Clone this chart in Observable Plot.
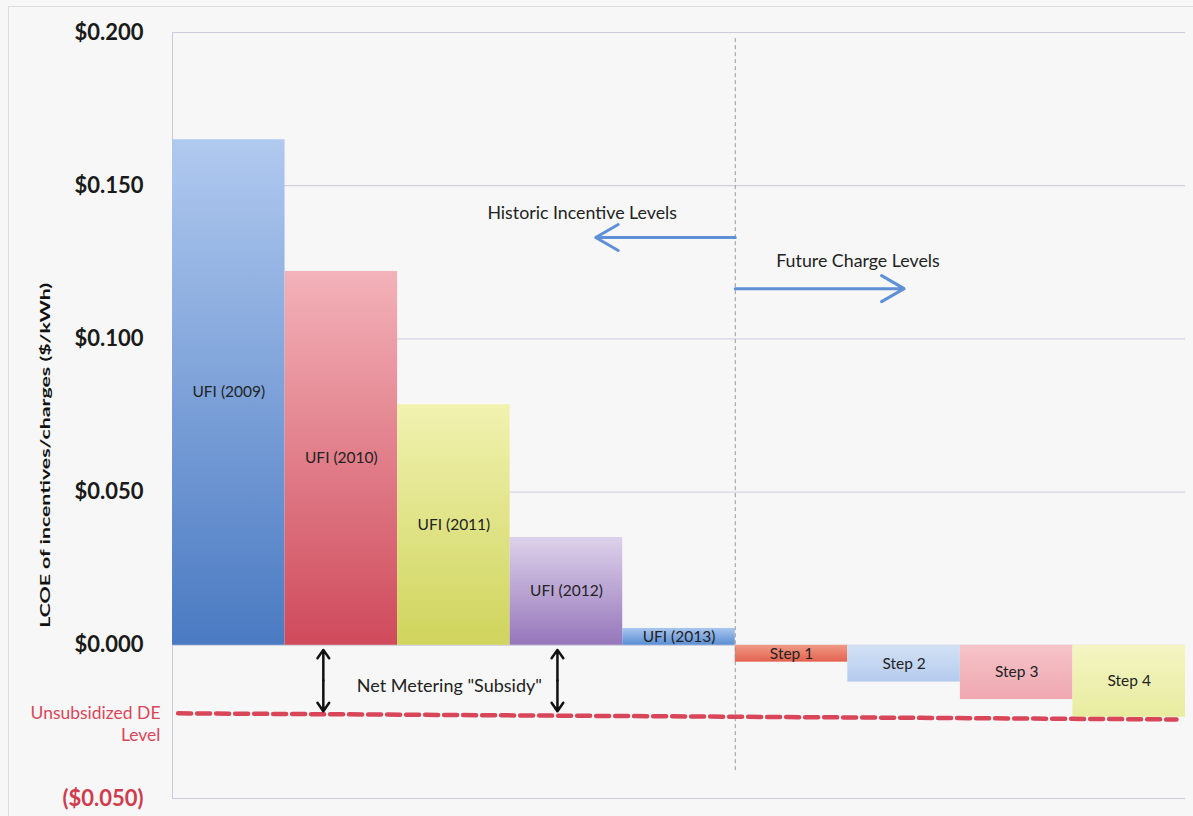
<!DOCTYPE html>
<html>
<head>
<meta charset="utf-8">
<script src="https://cdn.jsdelivr.net/npm/d3@7"></script>
<script src="https://cdn.jsdelivr.net/npm/@observablehq/plot@0.6"></script>
<style>
  html, body { margin: 0; padding: 0; background: #f7f7f7; }
  #wrap { position: relative; width: 1193px; height: 816px; overflow: hidden; }
  #frame { position: absolute; left: 8px; top: 6px; width: 1200px; height: 900px; border: 1px solid #dedede; pointer-events: none; }
  svg { font-family: Lato, "Open Sans", sans-serif; }
</style>
</head>
<body>
<div id="wrap"><div id="frame"></div><div id="chart"></div></div>
<script>
// ---- data ----
const categories = ["UFI (2009)", "UFI (2010)", "UFI (2011)", "UFI (2012)", "UFI (2013)", "Step 1", "Step 2", "Step 3", "Step 4"];
const values = [0.165, 0.122, 0.0785, 0.0352, 0.0055, -0.0055, -0.012, -0.0177, -0.0235];
const tickValues = [0.2, 0.15, 0.1, 0.05, 0, -0.05];
const unsubsidizedLevel = [-0.0222, -0.0242];   // left end, right end
const dividerAt = 5;                             // between historic and future
const subsidyArrowsAt = [1.34, 3.42];
const yLabel = "LCOE of incentives/charges ($/kWh)";
const historicLabel = "Historic Incentive Levels";
const futureLabel = "Future Charge Levels";
const subsidyLabel = "Net Metering \"Subsidy\"";
const levelLabel = ["Unsubsidized DE", "Level"];

// ---- styles ----
const gradients = [
  ["#b0c9ef", "#4a7ac2"],
  ["#f3b2b9", "#cf4a5b"],
  ["#f1f2b0", "#cfd45c"],
  ["#ddd2ea", "#9676bb"],
  ["#a9c6ee", "#5a8ed3"],
  ["#f09a86", "#e2624f"],
  ["#d3e1f5", "#b4cbee"],
  ["#f6c4c9", "#efa7b0"],
  ["#f4f5c2", "#e8eca0"]
];

const bars = categories.map((c, i) => ({i, label: c, value: values[i], fill: `url(#g${i})`}));
const fmt = d => d < 0 ? `($${(-d).toFixed(3)})` : `$${d.toFixed(3)}`;
const subsidyHalves = subsidyArrowsAt.flatMap(x => [
  {x, y1: -0.0115, y2: -0.0015},
  {x, y1: -0.0115, y2: -0.0215}
]);

const plot = Plot.plot({
  width: 1193,
  height: 816,
  marginLeft: 172,
  marginRight: 8,
  marginTop: 32,
  marginBottom: 18,
  style: {background: "transparent", fontFamily: "Lato, 'Open Sans', sans-serif", overflow: "visible"},
  x: {domain: [0, categories.length], axis: null},
  y: {domain: [-0.05, 0.2], axis: null},
  color: {type: "identity"},
  marks: [
    Plot.ruleY(tickValues, {x1: 0, x2: categories.length, stroke: "#cbcbdb", strokeWidth: 1}),
    Plot.ruleX([0], {y1: -0.05, y2: 0.2, stroke: "#cbcbdb"}),
    Plot.rect(bars, {x1: "i", x2: d => d.i + 1, y1: 0, y2: "value", fill: "fill"}),
    Plot.ruleX([dividerAt], {y1: 0.198, y2: -0.0415, stroke: "#999", strokeWidth: 1, strokeDasharray: "4,3"}),
    Plot.line([{x: 0.05, y: unsubsidizedLevel[0]}, {x: 8.92, y: unsubsidizedLevel[1]}],
      {x: "x", y: "y", stroke: "#d9465a", strokeWidth: 4.5, strokeDasharray: "13,6"}),
    Plot.text(bars, {x: d => d.i + 0.5, y: d => d.value / 2, text: "label", fontSize: 15.5, fill: "#222"}),
    // y tick labels
    Plot.text(tickValues, {x: 0, y: d => d, text: fmt, dx: -29, textAnchor: "end", fontSize: 22, fontWeight: "bold",
      fill: d => d < 0 ? "#cf3c4e" : "#1a1a1a"}),
    // y axis title
    Plot.text([yLabel], {x: 0, y: 0.062, dx: -127, rotate: -90, fontSize: 13, fontWeight: "bold", fill: "#111", className: "ylabel"}),
    // level label
    Plot.text([levelLabel[0]], {x: 0, y: unsubsidizedLevel[0], dx: -12, textAnchor: "end", fontSize: 17.5, fill: "#d9465a"}),
    Plot.text([levelLabel[1]], {x: 0, y: unsubsidizedLevel[0], dx: -12, dy: 22, textAnchor: "end", fontSize: 17.5, fill: "#d9465a"}),
    // arrows
    Plot.arrow([{x1: dividerAt, y1: 0.1331, x2: 3.76, y2: 0.1331}], {x1: "x1", y1: "y1", x2: "x2", y2: "y2", stroke: "#5f90d6", strokeWidth: 3, headLength: 13}),
    Plot.arrow([{x1: dividerAt, y1: 0.1164, x2: 6.5, y2: 0.1164}], {x1: "x1", y1: "y1", x2: "x2", y2: "y2", stroke: "#5f90d6", strokeWidth: 3, headLength: 13}),
    Plot.text([historicLabel], {x: 3.64, y: 0.141, fontSize: 17.8, fill: "#222"}),
    Plot.text([futureLabel], {x: 6.09, y: 0.1254, fontSize: 17.8, fill: "#222"}),
    Plot.arrow(subsidyHalves, {x1: "x", x2: "x", y1: "y1", y2: "y2", stroke: "#111", strokeWidth: 2.5, headLength: 12, headAngle: 70}),
    Plot.text([subsidyLabel], {x: 2.46, y: -0.0134, fontSize: 18, fill: "#222"})
  ]
});

const svg = plot.tagName === "svg" ? plot : plot.querySelector("svg");
const ns = "http://www.w3.org/2000/svg";
const defs = document.createElementNS(ns, "defs");
gradients.forEach(([top, bottom], i) => {
  const g = document.createElementNS(ns, "linearGradient");
  g.setAttribute("id", `g${i}`);
  g.setAttribute("x1", "0"); g.setAttribute("y1", "0");
  g.setAttribute("x2", "0"); g.setAttribute("y2", "1");
  [[0, top], [1, bottom]].forEach(([o, c]) => {
    const s = document.createElementNS(ns, "stop");
    s.setAttribute("offset", o);
    s.setAttribute("stop-color", c);
    g.appendChild(s);
  });
  defs.appendChild(g);
});
svg.insertBefore(defs, svg.firstChild);
// the reference's axis title is stretched along its length
svg.querySelectorAll(".ylabel text").forEach(t => {
  t.setAttribute("textLength", 345);
  t.setAttribute("lengthAdjust", "spacingAndGlyphs");
});
document.getElementById("chart").appendChild(plot);
</script>
</body>
</html>
